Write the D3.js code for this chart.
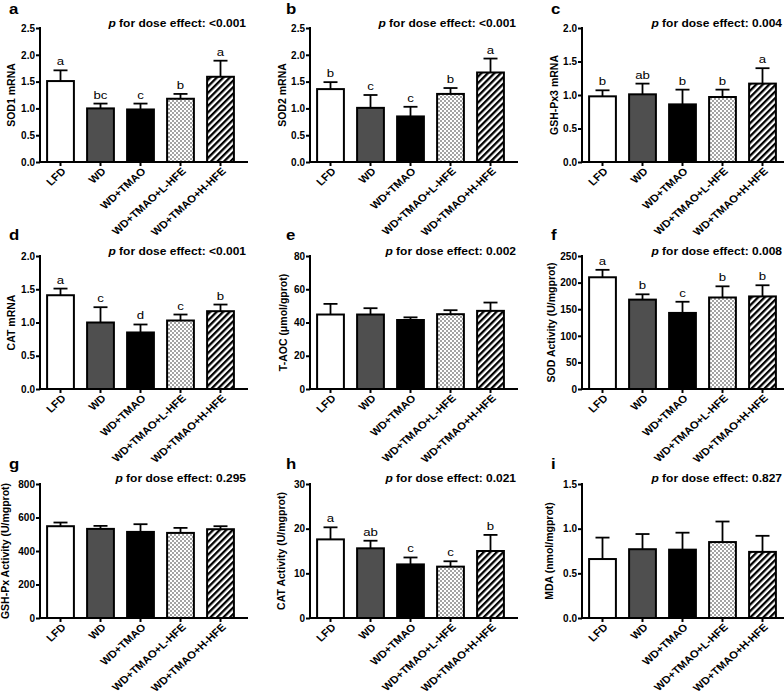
<!DOCTYPE html>
<html><head><meta charset="utf-8">
<script src="https://cdn.jsdelivr.net/npm/d3@7"></script>
<style>body{margin:0;background:#fff}svg{display:block}text{font-family:"Liberation Sans",Arial,sans-serif}</style>
</head><body><svg id="c" width="784" height="696"></svg>
<script>
const categories = ["LFD","WD","WD+TMAO","WD+TMAO+L-HFE","WD+TMAO+H-HFE"];

const sod1Mean = [1.51,1.00,0.98,1.18,1.59];
const sod1Err  = [0.20,0.09,0.11,0.09,0.30];
const sod1Letters = ["a","bc","c","b","a"];

const sod2Mean = [1.36,1.01,0.85,1.27,1.67];
const sod2Err  = [0.13,0.24,0.18,0.11,0.26];
const sod2Letters = ["b","c","c","b","a"];

const gpx3Mean = [0.98,1.01,0.86,0.97,1.17];
const gpx3Err  = [0.09,0.16,0.22,0.11,0.23];
const gpx3Letters = ["b","ab","b","b","a"];

const catMean = [1.41,1.00,0.85,1.03,1.17];
const catErr  = [0.10,0.23,0.12,0.09,0.10];
const catLetters = ["a","c","d","c","b"];

const taocMean = [44.8,44.8,41.5,45.0,47.0];
const taocErr  = [6.4,3.8,1.6,2.4,5.0];
const taocLetters = ["","","","",""];

const sodActMean = [210,168,143,172,174];
const sodActErr  = [14,10,21,21,21];
const sodActLetters = ["a","b","c","b","b"];

const gpxActMean = [548,532,514,508,530];
const gpxActErr  = [22,18,46,30,18];
const gpxActLetters = ["","","","",""];

const catActMean = [17.6,15.6,12.0,11.5,15.0];
const catActErr  = [2.7,1.7,1.55,1.2,3.6];
const catActLetters = ["a","ab","c","c","b"];

const mdaMean = [0.66,0.77,0.765,0.85,0.74];
const mdaErr  = [0.24,0.17,0.19,0.23,0.18];
const mdaLetters = ["","","","",""];

const yLabels = ["SOD1 mRNA","SOD2 mRNA","GSH-Px3 mRNA","CAT mRNA","T-AOC (\u03bcmol/gprot)","SOD Activity (U/mgprot)","GSH-Px Activity (U/mgprot)","CAT Activity (U/mgprot)","MDA (nmol/mgprot)"];
const panelTags = ["a","b","c","d","e","f","g","h","i"];
const pValues = ["<0.001","<0.001","0.004","<0.001","0.002","0.008","0.295","0.021","0.827"];
const yMax = [2.5,2.5,2.0,2.0,80,250,800,30,1.5];
const yStep = [0.5,0.5,0.5,0.5,20,50,200,10,0.5];
const yFormat = [".1f",".1f",".1f",".1f","d","d","d","d",".1f"];

const means = [sod1Mean,sod2Mean,gpx3Mean,catMean,taocMean,sodActMean,gpxActMean,catActMean,mdaMean];
const errs = [sod1Err,sod2Err,gpx3Err,catErr,taocErr,sodActErr,gpxActErr,catActErr,mdaErr];
const letters = [sod1Letters,sod2Letters,gpx3Letters,catLetters,taocLetters,sodActLetters,gpxActLetters,catActLetters,mdaLetters];

// layout
const colX = [40,310,582];
const rowY = [{y0:162,top:28,tag:14,p:27},{y0:389,top:256,tag:240,p:255},{y0:618,top:484,tag:469,p:482}];
const tagX = [9,286,551];
const ylabX = [11,282,554,11,283,551,5,281,549];
const SX = 1.2;

const svg = d3.select("#c");
const defs = svg.append("defs");
const dots = defs.append("pattern").attr("id","dots").attr("patternUnits","userSpaceOnUse").attr("width",4).attr("height",4);
dots.append("rect").attr("width",4).attr("height",4).attr("fill","#fff");
dots.append("circle").attr("cx",1).attr("cy",1).attr("r",0.7).attr("fill","#000");
dots.append("circle").attr("cx",3).attr("cy",3).attr("r",0.7).attr("fill","#000");
const hatch = defs.append("pattern").attr("id","hatch").attr("patternUnits","userSpaceOnUse").attr("width",4.6).attr("height",10).attr("patternTransform","rotate(45)");
hatch.append("rect").attr("width",4.6).attr("height",10).attr("fill","#fff");
hatch.append("rect").attr("x",0).attr("width",2.3).attr("height",10).attr("fill","#000");
const fills = ["#ffffff","#4f4f4f","#000000","url(#dots)","url(#hatch)"];

for (let k=0;k<9;k++){
  const col = k%3, row = Math.floor(k/3);
  const yx = colX[col], R = rowY[row];
  const g = svg.append("g");
  const y = d3.scaleLinear().domain([0,yMax[k]]).range([R.y0,R.top]);
  const x = d3.scaleBand().domain(categories).range([yx+0.5,yx+200.5]).paddingInner(0.33).paddingOuter(0.165);
  const xend = Math.min(yx+208,784);

  // bars
  categories.forEach((c,i)=>{
    const cx = x(c)+x.bandwidth()/2;
    const top = y(means[k][i]+errs[k][i]);
    g.append("line").attr("x1",cx).attr("x2",cx).attr("y1",y(means[k][i])).attr("y2",top).attr("stroke","#000").attr("stroke-width",1.8);
    g.append("line").attr("x1",cx-7).attr("x2",cx+7).attr("y1",top).attr("y2",top).attr("stroke","#000").attr("stroke-width",1.8);
    g.append("rect").attr("x",x(c)).attr("y",y(means[k][i])).attr("width",x.bandwidth()).attr("height",y(0)-y(means[k][i]))
      .attr("fill",fills[i]).attr("stroke","#000").attr("stroke-width",2);
    if (letters[k][i]) g.append("text").attr("transform",`translate(${cx},${top-5}) scale(${SX},1)`).attr("text-anchor","middle").attr("font-size",11).text(letters[k][i]);
  });

  // y axis
  const ticks = d3.range(0,yMax[k]+yStep[k]/2,yStep[k]);
  const yAxis = d3.axisLeft(y).tickValues(ticks).tickFormat(d3.format(yFormat[k])).tickSize(4).tickSizeOuter(0).tickPadding(1);
  const ya = g.append("g").attr("transform",`translate(${yx},0)`).call(yAxis);
  ya.attr("font-size",null).attr("font-family",null);
  ya.select(".domain").attr("stroke-width",2).attr("d",`M0,${R.y0+1}V${R.top-1}`);
  ya.selectAll(".tick line").attr("stroke-width",2);
  ya.selectAll(".tick text").attr("font-size",10).attr("font-weight","bold").attr("fill","#000");

  // x axis
  const xAxis = d3.axisBottom(x).tickSize(4).tickSizeOuter(0).tickFormat("");
  const xa = g.append("g").attr("transform",`translate(0,${R.y0})`).call(xAxis);
  xa.select(".domain").attr("stroke-width",2).attr("d",`M${yx-1},0H${xend}`);
  xa.selectAll(".tick line").attr("stroke-width",2);
  categories.forEach(c=>{
    const cx = x(c)+x.bandwidth()/2;
    g.append("text").attr("transform",`translate(${cx+6},${R.y0+10}) scale(1.1,1) rotate(-45)`).attr("text-anchor","end")
      .attr("font-size",10.3).attr("font-weight","bold").text(c);
  });

  // y label
  g.append("text").attr("transform",`translate(${ylabX[k]+4},${(R.y0+R.top)/2}) rotate(-90)`).attr("text-anchor","middle")
    .attr("font-size",10.5).attr("font-weight","bold").text(yLabels[k]);

  // panel tag
  svg.append("text").attr("transform",`translate(${tagX[col]},${R.tag}) scale(${SX},1)`).attr("font-size",14).attr("font-weight","bold").text(panelTags[k]);

  // p text
  const pt = g.append("text").attr("transform",`translate(${Math.min(yx+206,782)},${R.p}) scale(${SX},1)`).attr("text-anchor","end").attr("font-size",10).attr("font-weight","bold");
  pt.append("tspan").attr("font-style","italic").text("p");
  pt.append("tspan").text(" for dose effect: "+pValues[k]);
}
</script></body></html>
